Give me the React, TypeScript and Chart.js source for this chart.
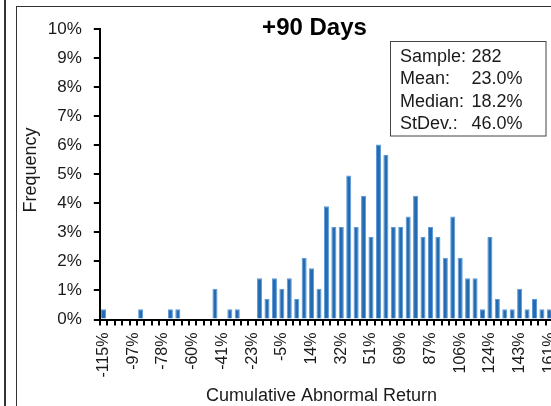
import React, { useEffect, useRef } from 'react';
import { Chart, registerables } from 'chart.js';

Chart.register(...registerables);

// Histogram bins (bin start, rounded), step 4.6%
const BIN_LABELS = [
  '-115%', '-110%', '-106%', '-101%', '-97%', '-92%', '-87%', '-83%', '-78%', '-74%',
  '-69%', '-64%', '-60%', '-55%', '-51%', '-46%', '-41%', '-37%', '-32%', '-28%',
  '-23%', '-18%', '-14%', '-9%', '-5%', '0%', '5%', '9%', '14%', '18%',
  '23%', '28%', '32%', '37%', '41%', '46%', '51%', '55%', '60%', '64%',
  '69%', '74%', '78%', '83%', '87%', '92%', '97%', '101%', '106%', '110%',
  '115%', '120%', '124%', '129%', '133%', '138%', '143%', '147%', '152%', '156%',
  '161%', '166%',
];

// Frequency in % (share of the 282 observations)
const FREQUENCY = [
  0.35, 0, 0, 0, 0, 0.35, 0, 0, 0, 0.35,
  0.35, 0, 0, 0, 0, 1.06, 0, 0.35, 0.35, 0,
  0, 1.42, 0.71, 1.42, 1.06, 1.42, 0.71, 2.13, 1.77, 1.06,
  3.90, 3.19, 3.19, 4.96, 3.19, 4.26, 2.84, 6.03, 5.67, 3.19,
  3.19, 3.55, 4.26, 2.84, 3.19, 2.84, 2.13, 3.55, 2.13, 1.42,
  1.42, 0.35, 2.84, 0.71, 0.35, 0.35, 1.06, 0.35, 0.71, 0.35,
  0.35, null,
];

const Y_MIN = 0;
const Y_MAX = 10;
const Y_STEP = 1;
const LABEL_EVERY = 4;

const TITLE = '+90 Days';
const X_TITLE = 'Cumulative Abnormal Return';
const Y_TITLE = 'Frequency';
const STAT_NAMES = ['Sample:', 'Mean:', 'Median:', 'StDev.:'];
const STAT_VALUES = ['282', '23.0%', '18.2%', '46.0%'];

const FONT = '"Liberation Sans", Arial, Helvetica, sans-serif';
const W = 570;
const H = 406;

const decorations = {
  id: 'decorations',
  afterDraw(chart: any) {
    const ctx = chart.ctx as CanvasRenderingContext2D;
    ctx.save();
    // Title
    ctx.fillStyle = '#000';
    ctx.font = `bold 24px ${FONT}`;
    ctx.textAlign = 'center';
    ctx.textBaseline = 'alphabetic';
    ctx.fillText(TITLE, 314.5, 34.5);

    // X axis title
    ctx.fillStyle = '#1a1a1a';
    ctx.font = `18px ${FONT}`;
    ctx.fillText(X_TITLE, 321.5, 401);

    // Y axis title
    ctx.save();
    ctx.translate(35.7, 170);
    ctx.rotate(-Math.PI / 2);
    ctx.textAlign = 'center';
    ctx.fillText(Y_TITLE, 0, 0);
    ctx.restore();

    // Stats box
    ctx.fillStyle = '#fff';
    ctx.fillRect(390.5, 41.5, 155.5, 94.5);
    ctx.strokeStyle = '#444';
    ctx.lineWidth = 1;
    ctx.strokeRect(390.5, 41.5, 155.5, 94.5);
    ctx.fillStyle = '#1a1a1a';
    ctx.font = `18px ${FONT}`;
    ctx.textAlign = 'left';
    const baselines = [61.5, 84, 106.5, 129];
    STAT_NAMES.forEach((n, i) => {
      ctx.fillText(n, 400, baselines[i]);
      ctx.fillText(STAT_VALUES[i], 471.5, baselines[i]);
    });
    ctx.restore();
  },
};

export default function App() {
  const ref = useRef<HTMLCanvasElement>(null);

  useEffect(() => {
    if (!ref.current) return;
    const chart = new Chart(ref.current, {
      type: 'bar',
      data: {
        labels: BIN_LABELS,
        datasets: [
          {
            data: FREQUENCY as any,
            backgroundColor: '#236bb2',
            borderColor: '#5d9ad6',
            borderWidth: 1,
            borderSkipped: 'bottom',
            categoryPercentage: 1,
            barPercentage: 0.68,
          },
        ],
      },
      options: {
        animation: false,
        responsive: false,
        devicePixelRatio: 1,
        layout: { padding: { left: 0, top: 29.3, right: W - 560.5, bottom: 0 } },
        plugins: {
          legend: { display: false },
          tooltip: { enabled: false },
          title: { display: false },
        },
        scales: {
          x: {
            type: 'category',
            offset: true,
            afterFit: (s: any) => {
              s.height = H - 319.5;
              s.paddingLeft = 0;
              s.paddingRight = 0;
            },
            grid: {
              display: true,
              offset: true,
              drawOnChartArea: false,
              drawTicks: true,
              tickLength: 6,
              color: '#000',
              lineWidth: 2,
            },
            border: { display: true, color: '#000', width: 2 },
            ticks: {
              autoSkip: false,
              minRotation: 90,
              maxRotation: 90,
              padding: 7,
              color: '#1a1a1a',
              font: { family: FONT, size: 16 },
              callback: (_v: any, i: number) => (i % LABEL_EVERY === 0 ? BIN_LABELS[i] : ''),
            },
          },
          y: {
            min: Y_MIN,
            max: Y_MAX,
            afterFit: (s: any) => {
              s.width = 99.8;
              s.paddingTop = 0;
              s.paddingBottom = 0;
            },
            grid: {
              display: true,
              drawOnChartArea: false,
              drawTicks: true,
              tickLength: 6,
              color: '#000',
              lineWidth: 2,
            },
            border: { display: true, color: '#000', width: 2 },
            ticks: {
              stepSize: Y_STEP,
              padding: 12,
              color: '#1a1a1a',
              font: { family: FONT, size: 17 },
              callback: (v: any) => `${v}%`,
            },
          },
        },
      },
      plugins: [decorations],
    });
    return () => chart.destroy();
  }, []);

  return (
    <div
      style={{
        position: 'fixed',
        left: 0,
        top: 0,
        width: 551,
        height: 406,
        overflow: 'hidden',
        background: '#fff',
      }}
    >
      <div
        style={{
          position: 'absolute',
          left: 4,
          top: 0,
          width: 1.5,
          height: 406,
          background: '#333',
        }}
      />
      <div
        style={{
          position: 'absolute',
          left: 16,
          top: 6,
          width: 700,
          height: 600,
          borderLeft: '1.5px solid #333',
          borderTop: '1.5px solid #333',
        }}
      />
      <canvas
        ref={ref}
        width={W}
        height={H}
        style={{ position: 'absolute', left: 0, top: 0, width: W, height: H, display: 'block' }}
      />
    </div>
  );
}
